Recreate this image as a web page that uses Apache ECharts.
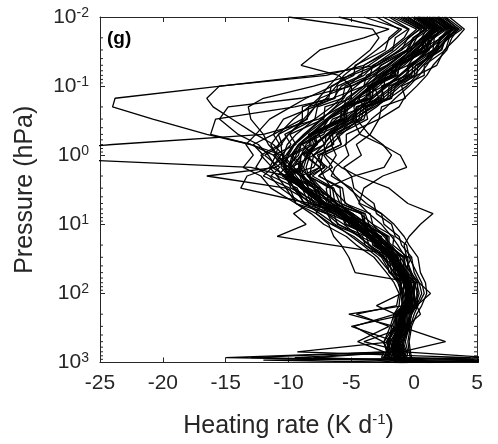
<!DOCTYPE html>
<html><head><meta charset="utf-8">
<script src="https://cdn.jsdelivr.net/npm/echarts@6/dist/echarts.min.js"></script>
<style>html,body{margin:0;padding:0;background:#fff}#c{width:498px;height:444px}</style>
</head><body><div id="c"></div>
<script>
// pressure levels (hPa) shared by every profile
const pressureLevels = [0.01, 0.015, 0.02, 0.03, 0.05, 0.07, 0.1, 0.15, 0.2, 0.3, 0.5, 0.7, 1, 1.5, 2, 3, 5, 7, 10, 15, 20, 30, 50, 70, 100, 150, 200, 300, 500, 700, 850, 925, 1000];
const xTicks = [-25, -20, -15, -10, -5, 0, 5];
const yTickExponents = [-2, -1, 0, 1, 2, 3];

// heating rate profiles (K/day), one value per pressure level
const p01 = [1.0, 2.8, 2.2, 0.4, -0.5, -2.3, -2.4, -4.4, -4.0, -6.5, -7.2, -8.9, -8.0, -9.8, -9.0, -7.5, -6.9, -5.0, -4.4, -2.6, -2.6, -1.3, -1.1, -0.3, -0.2, -0.8, -0.6, -1.3, -1.0, -1.6, -1.1, -0.9, -0.6];
const p02 = [0.2, 1.8, 0.6, -0.2, -1.8, -2.9, -3.8, -4.9, -5.8, -7.0, -8.6, -9.5, -10.0, -10.3, -9.9, -8.8, -7.2, -5.9, -4.6, -3.4, -2.6, -1.8, -1.0, -0.6, -0.6, -0.4, -1.1, -1.1, -1.9, -1.6, -1.7, -1.1, -0.8];
const p03 = [2.0, 3.4, 2.5, 2.2, 0.3, 0.2, -1.5, -1.8, -3.7, -4.0, -6.5, -6.4, -8.0, -7.2, -8.1, -6.4, -5.9, -3.9, -3.6, -2.0, -2.0, -0.8, -0.6, 0.1, 0.0, 0.1, -0.6, -0.5, -1.1, -0.8, -1.0, -0.5, -0.2];
const p04 = [-1.5, 0.5, -0.5, -1.0, -3.3, -3.5, -5.5, -5.7, -7.7, -7.9, -10.3, -9.8, -10.6, -11.3, -10.2, -9.8, -7.6, -6.8, -4.8, -4.3, -2.8, -2.4, -1.2, -1.1, -0.8, -0.6, -1.3, -1.3, -2.1, -1.8, -2.0, -1.4, -1.0];
const p05 = [0.8, 2.2, 1.5, 0.9, -1.4, -1.7, -3.2, -2.8, -4.6, -4.6, -7.0, -7.1, -9.0, -9.1, -10.4, -8.5, -8.0, -5.6, -5.2, -3.2, -3.2, -1.7, -1.5, -0.6, -0.7, -0.5, -1.2, -1.0, -1.7, -9.3, 4.5, -1.1, -0.9];
const p06 = [1.8, 3.0, 2.0, 1.9, 0.2, -0.8, -1.7, -3.0, -3.8, -5.0, -6.6, -7.2, -8.0, -8.2, -8.3, -7.4, -6.1, -4.9, -3.7, -2.7, -2.0, -1.3, -0.6, -0.2, -0.1, 0.0, -0.7, -0.6, -1.3, -1.0, -1.2, -0.8, -0.4];
const p07 = [-0.5, 1.2, 0.2, -0.3, -2.7, -3.0, -5.0, -5.0, -7.1, -7.2, -9.9, -9.4, -11.2, -10.2, -10.9, -8.6, -8.2, -5.7, -5.4, -3.3, -3.1, -1.6, -1.5, -0.6, -0.6, -0.5, -1.2, -1.2, -1.9, -1.7, -1.8, -1.2, -0.7];
const p08 = [1.4, 2.5, 1.2, 0.9, -1.4, -1.5, -3.5, -3.7, -5.8, -5.8, -8.3, -8.2, -9.0, -9.8, -9.1, -8.7, -6.5, -6.0, -4.0, -3.6, -2.2, -1.9, -0.8, -0.7, -0.5, -0.2, -0.9, -0.8, -1.4, -1.1, -1.3, -0.7, -0.5];
const p09 = [2.5, 3.8, 2.8, 2.5, 0.8, 0.8, -1.0, -0.7, -2.6, -2.8, -5.4, -5.4, -7.2, -6.5, -7.6, -5.7, -5.5, -3.5, -3.3, -1.6, -1.7, -0.5, -0.5, 0.3, 0.2, 0.3, -0.4, -0.3, -0.9, -0.6, -0.8, -0.3, 0.0];
const p10 = [0.0, 1.5, 0.8, 0.3, -1.4, -2.5, -3.3, -4.6, -5.4, -6.8, -8.1, -9.1, -9.6, -9.9, -9.6, -8.7, -7.0, -5.7, -4.5, -3.4, -2.7, -1.9, -1.0, -0.6, -0.5, -0.3, -1.0, -1.0, -1.6, -1.3, -1.6, -1.0, -0.7];
const p11 = [1.2, 2.6, 1.6, 1.5, -0.5, -0.6, -2.6, -2.4, -4.0, -4.2, -6.2, -5.8, -7.5, -8.0, -10.5, -8.9, -8.4, -5.8, -5.5, -3.4, -3.3, -1.8, -1.6, -0.6, -0.7, -0.4, -1.1, -1.0, -1.6, -1.4, -1.6, -1.0, -0.6];
const p12 = [-2.5, -0.5, -1.5, -1.7, -4.0, -4.2, -6.1, -6.3, -8.4, -8.5, -10.8, -10.5, -11.9, -10.7, -11.4, -9.3, -8.8, -6.4, -6.1, -3.8, -3.6, -2.0, -1.8, -0.8, -0.9, -0.7, -1.4, -1.4, -2.2, -1.9, -2.1, 9.0, -1.1];
const p13 = [0.5, 2.0, 1.0, 0.5, -1.7, -1.9, -3.6, -3.5, -5.4, -5.6, -8.0, -7.8, -8.4, -9.2, -8.4, -8.0, -5.8, -5.3, -3.6, -3.2, -1.9, -1.7, -0.5, -0.5, -0.2, -0.1, -0.8, -0.7, -1.3, -1.0, -1.2, -0.7, -0.3];
const p14 = [1.6, 3.2, 2.2, 1.7, -0.1, -0.2, -2.0, -2.1, -4.2, -4.4, -6.8, -6.5, -8.1, -6.9, -7.6, -5.9, -5.8, -4.0, -3.9, -2.2, -2.3, -1.1, -1.0, -0.2, -0.3, -0.1, -0.8, -0.7, -1.2, -0.9, -1.1, -0.6, -0.3];
const p15 = [-1.0, 0.8, 0.0, -0.5, -2.2, -3.8, -4.0, -5.4, -5.6, -6.8, -7.6, -9.0, -9.4, -9.9, -10.1, -9.6, -8.3, -6.9, -5.6, -4.4, -3.5, -2.5, -1.6, -1.1, -1.0, -0.8, -1.5, -1.5, -2.2, -2.0, -13.0, -1.6, -1.2];
const p16 = [2.2, 3.6, 2.6, 2.1, 0.1, 0.0, -1.8, -1.9, -3.9, -3.7, -6.0, -5.8, -7.7, -7.1, -8.4, -6.7, -6.6, -4.2, -3.9, -2.1, -2.1, -0.8, -0.8, 0.1, 0.0, 0.2, -0.5, -0.4, -1.0, -0.7, -0.9, -0.4, -0.1];
const p17 = [0.4, 1.9, 1.1, 1.1, -1.1, -1.4, -3.3, -3.3, -5.3, -5.4, -7.9, -7.7, -8.8, -7.5, -9.0, -7.6, -7.5, -5.0, -4.7, -2.7, -2.7, -1.3, -1.2, -0.3, -0.4, -0.2, -0.9, -0.8, -1.4, -1.1, -1.3, -0.8, -0.5];
const p18 = [-3.0, -1.2, -2.0, -2.3, -4.7, -4.8, -6.6, -6.8, -8.9, -8.9, -11.2, -10.7, -12.2, -11.3, -12.0, -9.9, -9.4, -6.9, -6.5, -4.1, -3.9, -2.2, -2.0, -1.0, -1.1, -0.9, -1.6, -1.6, -2.4, -2.1, -2.3, -1.7, -1.3];
const p19 = [1.0, 2.4, 1.4, 1.2, -0.3, -1.2, -2.2, -3.3, -4.1, -5.3, -6.8, -7.9, -8.5, -8.8, -8.5, -7.6, -6.2, -5.1, -4.0, -2.9, -2.3, -1.5, -0.8, -0.4, -0.3, -0.1, -0.8, -0.7, -1.3, -1.1, -1.3, -0.8, -0.4];
const p20 = [0.6, 2.1, 0.9, 0.6, -1.6, -1.8, -3.7, -3.8, -5.7, -5.9, -8.4, -8.3, -9.9, -9.0, -10.0, -7.9, -7.5, -5.1, -4.8, -2.8, -2.8, -1.4, -1.3, -0.4, -0.5, -0.3, -1.0, -0.9, -1.5, -1.2, -8.0, -0.9, -0.6];
const p21 = [2.8, 4.0, 3.4, 2.4, 1.8, 0.2, -0.6, -2.0, -3.2, -4.9, -4.3, -2.6, -1.1, -0.6, -2.5, -4.0, -4.4, -3.6, -2.6, -1.8, -1.3, -0.7, -0.2, 0.2, 0.4, 0.1, -0.2, -0.5, -0.8, -0.9, -0.6, -0.3, 0.2];
const p22 = [1.5, 3.0, 2.5, 1.5, 0.5, -0.5, -1.5, -2.8, -3.7, -5.2, -6.5, -7.2, -7.0, -5.8, -4.5, -2.0, -0.5, 1.5, 0.5, -0.4, -0.8, -0.6, -0.3, 0.0, 0.3, 0.0, -0.3, -0.6, -0.9, -1.0, -0.8, -0.5, -0.2];
const p23 = [0.0, 1.6, 1.1, 0.0, -1.5, -2.8, -3.6, -4.4, -4.8, -4.6, -3.6, -2.5, -1.8, -2.4, -4.8, -7.0, -6.8, -5.5, -4.4, -3.3, -2.6, -1.8, -1.1, -0.7, -0.4, -0.6, -0.9, -1.2, -1.5, -1.6, -1.3, -1.0, -0.7];
const p24 = [-1.0, 0.6, 0.2, -1.0, -3.0, -5.0, -8.0, -12.0, -13.2, -13.0, -12.0, -11.6, -10.8, -10.2, -9.6, -8.9, -7.4, -6.0, -4.8, -3.6, -2.8, -2.0, -1.2, -0.8, -0.5, -0.7, -1.0, -1.3, -1.6, -1.7, -1.5, -1.2, -0.8];
const p25 = [-2.0, -0.4, -0.8, -2.0, -4.0, -7.0, -15.5, -16.5, -16.0, -14.5, -12.6, -11.2, -10.4, -9.6, -9.0, -8.4, -7.0, -5.6, -4.5, -3.4, -2.7, -1.9, -1.1, -0.7, -0.4, -0.6, -0.9, -1.2, -1.4, -1.5, -1.3, -0.9, -0.5];
const p26 = [0.0, 1.4, 0.8, -0.6, -3.0, -8.0, -15.4, -23.8, -24.0, -20.8, -16.5, -13.0, -10.5, -9.8, -9.4, -8.6, -7.1, -5.7, -4.6, -3.5, -2.7, -1.9, -1.1, -0.7, -0.4, -0.6, -0.9, -1.2, -1.5, -1.6, -1.4, -1.0, -0.7];
const p27 = [1.0, 2.2, 1.6, 0.4, -1.0, -2.2, -3.2, -4.6, -5.8, -7.6, -12.0, -24.0, -35.0, -13.0, -10.2, -9.0, -7.4, -6.0, -4.7, -3.5, -2.8, -2.0, -1.2, -0.8, -0.5, -0.7, -1.0, -1.3, -1.5, -1.6, -1.4, -1.0, -0.6];
const p28 = [0.3, 1.7, 1.2, 0.1, -1.3, -2.4, -3.4, -4.5, -5.5, -6.8, -8.2, -9.2, -9.8, -11.0, -16.5, -10.2, -8.0, -6.4, -5.0, -3.8, -2.9, -2.0, -1.2, -0.8, -0.5, -0.7, -1.0, -1.3, -1.6, -1.7, -1.5, -1.1, -0.8];
const p29 = [-0.5, 1.0, 0.6, -0.5, -2.0, -3.2, -4.0, -5.2, -6.2, -7.4, -8.8, -9.6, -10.2, -11.4, -13.3, -13.8, -8.3, -9.6, -8.6, -10.9, -6.5, -0.2, -0.8, -0.6, -0.3, -0.5, -0.8, -1.1, -1.3, -1.5, -1.3, -1.0, -0.6];
const p30 = [1.2, 2.7, 2.1, 1.0, -0.2, -1.2, -2.3, -3.5, -4.4, -5.6, -7.0, -8.0, -8.6, -9.0, -8.8, -8.0, -7.4, -7.8, -6.8, -6.4, -5.8, -5.2, -4.7, 0.0, -0.2, -0.4, -0.7, -1.0, -1.2, -1.3, -1.1, -0.8, -0.4];
const p31 = [0.7, 2.0, 1.6, 0.6, -0.8, -1.9, -2.8, -4.0, -5.0, -6.2, -7.6, -8.6, -9.0, -9.2, -8.9, -8.0, -6.5, -5.2, -4.1, -3.0, -2.3, -1.5, -0.8, -0.4, -0.2, -0.8, -5.2, -1.6, -2.0, -2.2, -15.0, -3.0, -1.5];
const p32 = [1.3, 2.9, 2.3, 1.1, -0.1, -1.1, -2.1, -3.3, -4.2, -5.4, -6.9, -7.8, -8.3, -8.6, -8.4, -7.6, -6.2, -4.9, -3.8, -2.8, -2.1, -1.4, -0.7, -0.3, 0.0, -0.3, -0.6, -5.0, -1.5, -1.8, -2.5, 8.0, 1.0];
const p33 = [0.1, 1.6, 1.0, -0.2, -1.6, -2.6, -3.5, -4.7, -5.6, -6.9, -8.3, -9.2, -9.7, -10.0, -9.7, -8.8, -7.1, -5.7, -4.5, -3.4, -2.6, -1.8, -1.0, -0.6, -0.3, -0.5, -0.8, -1.1, 2.5, -1.0, -9.5, -1.0, 7.0];
const p34 = [1.9, 3.3, 2.8, 1.7, 0.5, -0.4, -1.3, -2.5, -3.4, -4.8, -6.1, -6.9, -7.3, -7.5, -7.2, -6.6, -5.4, -4.3, -3.3, -2.4, -1.8, -1.1, -0.3, 0.4, 1.3, 0.2, 0.5, -0.6, -4.0, -0.8, 6.0, -12.0, -0.5];
const p35 = [-10.0, -3.3, -2.8, -3.5, -5.0, -6.0, -6.8, -7.6, -8.4, -9.6, -10.8, -11.4, -11.0, -10.0, -9.0, -8.0, -6.6, -5.3, -4.2, -3.1, -2.4, -1.6, -0.9, -0.5, -0.2, -0.4, -0.7, -1.0, -1.2, -1.3, -1.1, -0.8, -0.5];
const p36 = [-6.0, -2.0, -4.0, -7.5, -9.0, -6.0, -5.0, -5.6, -6.3, -7.3, -8.7, -9.6, -10.1, -10.4, -10.0, -9.0, -7.3, -5.9, -4.7, -3.5, -2.7, -1.9, -1.1, -0.7, -0.4, -0.6, -0.9, -1.2, -1.5, -1.6, -1.4, -1.0, -0.6];
const p37 = [0.9, 2.3, 1.3, 1.0, -1.2, -1.3, -3.2, -3.4, -5.5, -5.5, -8.1, -7.8, -9.0, -9.6, -8.8, -8.4, -6.2, -5.8, -3.9, -3.6, -2.1, -1.9, -0.8, -0.7, -0.4, -0.1, -0.9, -0.8, -1.5, -1.2, -1.4, -0.9, -0.5];
const p38 = [1.7, 3.1, 2.1, 1.6, -0.4, -0.5, -2.5, -2.6, -4.6, -4.9, -7.6, -7.1, -8.6, -7.5, -8.5, -6.5, -6.3, -4.2, -4.0, -2.2, -2.1, -0.9, -0.8, 0.0, -0.1, 0.1, -0.6, -0.5, -1.2, -0.9, -1.1, -0.6, -0.3];
const p39 = [-0.8, 0.9, -0.1, -0.6, -2.6, -3.6, -4.6, -5.8, -6.6, -7.9, -9.4, -10.1, -10.4, -10.6, -10.0, -9.0, -7.4, -6.0, -4.7, -3.5, -2.7, -1.9, -1.1, -0.7, -0.7, -0.4, -1.2, -1.1, -1.9, -1.6, -1.9, -1.2, -0.9];
const p40 = [0.4, 1.9, 1.0, 0.8, -1.3, -1.6, -3.5, -3.5, -5.5, -5.7, -8.2, -8.0, -9.7, -8.8, -9.8, -7.7, -7.3, -4.9, -4.6, -2.7, -2.7, -1.3, -1.2, -0.3, -0.4, -0.2, -0.9, -0.8, -1.5, -1.2, -1.5, -0.8, -0.5];
const p41 = [2.4, 3.5, 3.0, 2.6, 1.5, 1.0, 0.2, -0.8, -1.2, -2.8, -3.5, -4.6, -4.2, -5.6, -5.0, -4.8, -3.2, -3.0, -1.8, -1.5, -0.6, -0.4, 0.2, 0.6, 0.8, 0.3, 0.0, -0.3, -0.5, -0.4, -0.3, 0.1, 0.3];
const p42 = [1.9, 3.0, 2.6, 1.8, 1.0, 0.4, -0.4, -1.5, -2.2, -3.4, -4.4, -5.5, -5.2, -6.3, -6.6, -5.0, -4.3, -2.6, -2.4, -1.2, -1.0, -0.2, 0.0, 0.4, 0.6, 0.2, -0.2, -0.4, -0.7, -0.5, -0.6, -0.2, 0.1];
const p43 = [-1.8, 0.2, -0.6, -1.8, -3.6, -5.2, -6.5, -8.6, -9.8, -11.5, -12.6, -13.4, -12.8, -13.6, -12.2, -11.4, -9.4, -7.8, -6.6, -4.8, -3.9, -2.6, -1.9, -1.2, -1.1, -1.2, -1.6, -1.9, -2.4, -2.2, -2.4, -1.8, -1.4];
const p44 = [-0.6, 1.0, 0.0, -1.2, -2.9, -4.4, -5.2, -7.5, -8.0, -10.4, -11.2, -12.8, -12.0, -12.6, -11.5, -10.6, -8.9, -7.0, -6.0, -4.4, -3.6, -2.4, -1.6, -1.1, -0.9, -1.0, -1.3, -1.8, -2.0, -1.9, -2.1, 5.0, -1.2];
const p45 = [2.0, 3.3, 2.7, 1.9, 0.7, 0.0, -1.1, -2.2, -3.0, -4.4, -5.8, -6.6, -6.2, -6.8, -6.3, -5.2, -3.8, -2.6, -1.6, -0.8, -0.4, 0.3, 0.5, 0.9, 1.0, 0.6, 0.2, -0.2, -0.4, -0.3, -0.2, 0.2, 0.5];
const p46 = [-1.2, 0.4, -0.4, -1.5, -3.2, -4.0, -5.8, -6.4, -7.9, -8.6, -10.0, -10.8, -11.0, -11.5, -10.9, -10.2, -9.4, -8.2, -7.2, -5.4, -4.6, -3.2, -2.2, -1.6, -1.2, -1.4, -4.6, -2.0, -4.5, -2.4, -2.6, 7.5, -1.5];
const p47 = [0.3, 1.6, 0.9, -0.3, -1.5, -2.4, -3.0, -4.6, -5.0, -6.8, -7.6, -9.0, -9.2, -10.2, -10.0, -9.6, -8.7, -7.5, -6.3, -5.0, -4.1, -2.9, -1.9, -1.3, -1.0, -3.0, -1.5, -4.8, -2.5, -2.0, -2.2, -1.8, 6.5];
const p48 = [-4.0, -1.0, -1.8, -3.0, -4.6, -5.6, -6.2, -7.0, -7.9, -8.8, -10.0, -10.6, -10.5, -10.2, -9.6, -8.6, -7.0, -5.6, -4.5, -3.3, -2.6, -1.7, -1.0, -0.6, -0.3, -0.5, -0.8, -1.1, -1.4, -1.5, -1.3, -1.0, -0.6];
const p49 = [0.5, 1.9, 1.2, 0.2, -1.4, -2.6, -4.0, -6.5, -9.5, -15.8, -16.2, -13.0, -11.2, -10.4, -9.8, -9.0, -7.5, -6.1, -4.9, -3.7, -2.9, -2.0, -1.2, -0.8, -0.5, -0.7, -1.0, -1.3, -1.6, -1.7, -1.5, -1.1, -0.7];
const p50 = [-0.2, 1.3, 0.7, -0.5, -2.1, -3.4, -5.0, -9.0, -14.8, -15.5, -14.0, -12.4, -11.6, -11.0, -10.4, -9.5, -7.8, -6.3, -5.0, -3.8, -3.0, -2.1, -1.3, -0.9, -0.6, -0.8, -1.1, -1.4, -1.7, -1.8, -1.6, -1.2, -0.8];

const profiles = [p01,p02,p03,p04,p05,p06,p07,p08,p09,p10,p11,p12,p13,p14,p15,p16,p17,p18,p19,p20,
                  p21,p22,p23,p24,p25,p26,p27,p28,p29,p30,p31,p32,p33,p34,p35,p36,p37,p38,p39,p40,
                  p41,p42,p43,p44,p45,p46,p47,p48,p49,p50];

const FONT = '"Liberation Sans", Arial, Helvetica, sans-serif';
const AX = '#262626';
const xMin = xTicks[0], xMax = xTicks[xTicks.length - 1];
const yMin = Math.pow(10, yTickExponents[0]), yMax = Math.pow(10, yTickExponents[yTickExponents.length - 1]);

// log minor tick positions (2..9 x 10^k)
const minorTickValues = [];
for (let k = 0; k < yTickExponents.length - 1; k++) {
  for (let m = 2; m <= 9; m++) minorTickValues.push(m * Math.pow(10, yTickExponents[k]));
}

const chart = echarts.init(document.getElementById('c'), null, {renderer: 'canvas'});

const lineSeries = profiles.map(prof => ({
  type: 'line',
  xAxisIndex: 0, yAxisIndex: 0,
  data: pressureLevels.map((p, i) => [prof[i], p]),
  showSymbol: false, symbol: 'none',
  lineStyle: {color: '#000', width: 1.3},
  silent: true, animation: false, clip: true, z: 2
}));

const minorTickSeries = {
  type: 'custom', xAxisIndex: 0, yAxisIndex: 0, silent: true, animation: false, clip: false, z: 3,
  data: minorTickValues.map(v => [xMin, v]),
  encode: {x: 0, y: 1},
  renderItem: function (params, api) {
    const p = api.value(1);
    const l = api.coord([xMin, p]);
    const r = api.coord([xMax, p]);
    return {type: 'group', children: [
      {type: 'line', shape: {x1: l[0], y1: l[1], x2: l[0] + 3, y2: l[1]}, style: {stroke: AX, lineWidth: 1}},
      {type: 'line', shape: {x1: r[0], y1: r[1], x2: r[0] - 3, y2: r[1]}, style: {stroke: AX, lineWidth: 1}}
    ]};
  }
};

const axisLineStyle = {show: true, onZero: false, lineStyle: {color: AX, width: 1}};
const tickStyle = {show: true, inside: true, length: 5, lineStyle: {color: AX, width: 1}};

chart.setOption({
  animation: false,
  backgroundColor: '#fff',
  grid: {left: 100, top: 17, width: 377, height: 353, containLabel: false},
  xAxis: [
    {
      type: 'value', min: xMin, max: xMax, interval: 5, position: 'bottom',
      axisLine: axisLineStyle, axisTick: tickStyle, splitLine: {show: false},
      axisLabel: {fontSize: 21, fontFamily: FONT, color: AX, margin: 10, formatter: v => String(v)},
      name: '{t|Heating rate (K d}{s|-1}{t|)}', nameLocation: 'middle', nameGap: 50,
      nameTextStyle: {fontFamily: FONT, color: AX, rich: {
        t: {fontSize: 25, fontFamily: FONT, color: AX, lineHeight: 28},
        s: {fontSize: 15, fontFamily: FONT, color: AX, verticalAlign: 'top', lineHeight: 28}
      }}
    },
    {
      type: 'value', min: xMin, max: xMax, interval: 5, position: 'top',
      axisLine: axisLineStyle, axisTick: tickStyle, splitLine: {show: false},
      axisLabel: {show: false}
    }
  ],
  yAxis: [
    {
      type: 'log', logBase: 10, min: yMin, max: yMax, inverse: true, position: 'left',
      axisLine: axisLineStyle, axisTick: tickStyle, splitLine: {show: false}, minorTick: {show: false},
      axisLabel: {
        margin: 11, fontFamily: FONT, color: AX,
        formatter: v => {
          const e = Math.round(Math.log10(v));
          return yTickExponents.indexOf(e) >= 0 ? '{b|10}{s|' + e + '}' : '';
        },
        rich: {
          b: {fontSize: 21, fontFamily: FONT, color: AX, lineHeight: 22},
          s: {fontSize: 14, fontFamily: FONT, color: AX, verticalAlign: 'top', lineHeight: 22}
        }
      },
      name: 'Pressure (hPa)', nameLocation: 'middle', nameGap: 62, nameRotate: 90,
      nameTextStyle: {fontSize: 25, fontFamily: FONT, color: AX}
    },
    {
      type: 'log', logBase: 10, min: yMin, max: yMax, inverse: true, position: 'right',
      axisLine: axisLineStyle, axisTick: tickStyle, splitLine: {show: false},
      axisLabel: {show: false}
    }
  ],
  graphic: [
    {type: 'text', left: 107, top: 29, z: 10,
     style: {text: '(g)', font: 'bold 19px ' + FONT, fill: '#000'}}
  ],
  series: lineSeries.concat([minorTickSeries])
});
</script>
</body></html>
